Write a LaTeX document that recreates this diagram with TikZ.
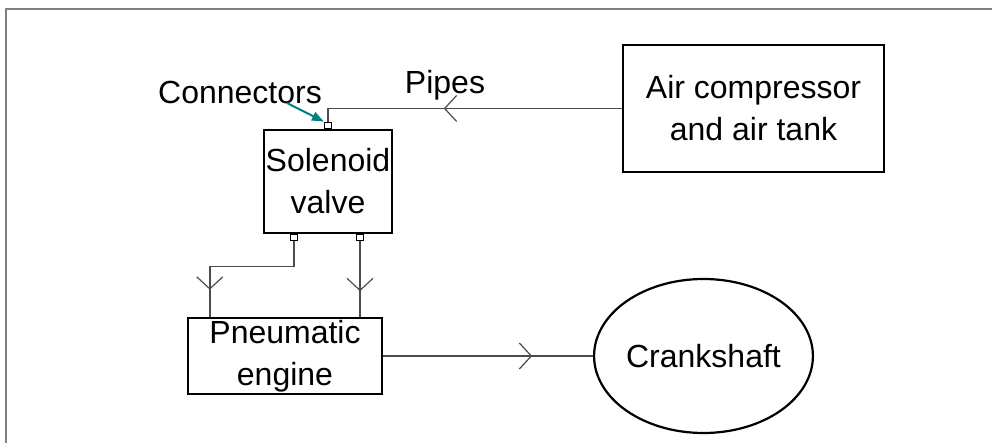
\documentclass[tikz,border=0pt]{standalone}
\usepackage{fontspec}
\setmainfont{Liberation Sans}
\usepackage{tikz}
\usetikzlibrary{shapes,arrows.meta,positioning,calc,decorations.markings}

\begin{document}
\begin{tikzpicture}[
    x=0.5pt, y=-0.5pt,
    font=\fontsize{16}{21}\selectfont,
    box/.style={rectangle, draw, line width=1.2pt, align=center, inner sep=0pt},
    port/.style={rectangle, draw, line width=0.6pt, fill=white, minimum width=3.5pt, minimum height=3pt, inner sep=0pt},
    pipe/.style={draw=gray!60!black, line width=0.8pt, postaction={decorate},
        decoration={markings, mark=at position #1 with {\arrow[line width=0.6pt]{Straight Barb[length=6pt, width=13pt]}}}},
    callout/.style={draw=teal, line width=1pt, -{Triangle[length=6pt, width=4.5pt]}}
]
    \useasboundingbox (0,0) rectangle (992,443);
    \draw[gray, line width=1pt] (6,443) -- (6,9) -- (992,9);

    \node[box, minimum width=130.5pt, minimum height=63.5pt] (air) at (753.5,108.5) {Air compressor\\and air tank};
    \node[box, minimum width=64pt, minimum height=51.5pt] (sv) at (328,181.5) {Solenoid\\valve};
    \node[box, minimum width=97pt, minimum height=38pt] (pe) at (285,356) {Pneumatic\\engine};
    \node[ellipse, draw, line width=1.1pt, minimum width=98.5pt, minimum height=77pt, inner sep=0pt] (crank) at (703.5,356) {Crankshaft};

    \node[port, anchor=south] (ctop) at (sv.north) {};
    \node[port, anchor=north] (cleft) at ($(sv.south)+(-34,0)$) {};
    \node[port, anchor=north] (cright) at ($(sv.south)+(32,0)$) {};

    \node (pipes) at (445,85) {Pipes};
    \node (conn) at (240,92) {Connectors};
    \coordinate (conntail) at ($(conn.center)+(47,11)$);
    \coordinate (peinlet) at ($(pe.north west)+(23,0)$);

    \draw[pipe=0.58] (air.west) -| (ctop.north);
    \draw[pipe=0.83] (cleft.south) -- ++(0,25) -| (peinlet);
    \draw[pipe=0.66] (cright.south) -- (cright.south |- pe.north);
    \draw[pipe=0.71] (pe.east) -- (crank.west);
    \draw[callout] (conntail) -- (ctop.north west);
\end{tikzpicture}
\end{document}
